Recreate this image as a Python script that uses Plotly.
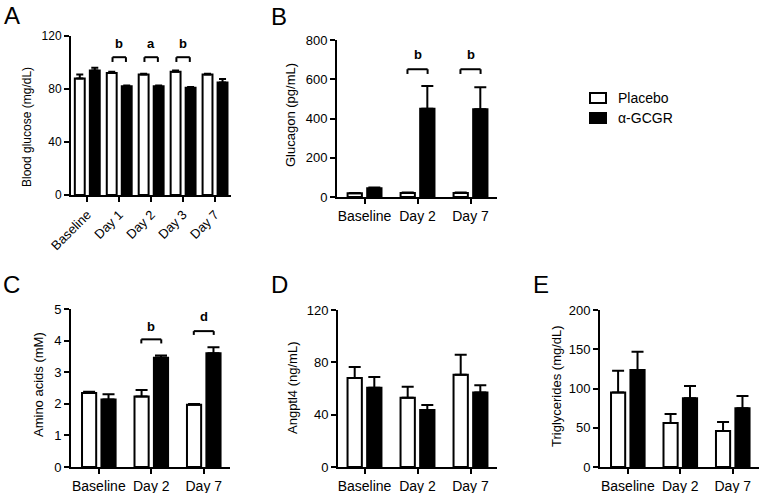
import plotly.graph_objects as go

# ---------------- data ----------------
series_names = ["Placebo", "α-GCGR"]

cats_A = ["Baseline", "Day 1", "Day 2", "Day 3", "Day 7"]
glucose_placebo = [88, 92, 91, 93, 91]
glucose_placebo_err = [3, 1, 0.6, 1, 0.6]
glucose_gcgr = [94, 82, 82, 81, 85]
glucose_gcgr_err = [2, 0.6, 0.6, 0.6, 2.5]

cats_3 = ["Baseline", "Day 2", "Day 7"]
glucagon_placebo = [19, 21, 21]
glucagon_placebo_err = [2, 2, 2]
glucagon_gcgr = [44, 450, 447]
glucagon_gcgr_err = [5, 115, 112]

amino_placebo = [2.34, 2.23, 1.97]
amino_placebo_err = [0.04, 0.21, 0.02]
amino_gcgr = [2.14, 3.46, 3.6]
amino_gcgr_err = [0.16, 0.07, 0.19]

angptl4_placebo = [68, 53, 70.5]
angptl4_placebo_err = [8.4, 8.4, 15.3]
angptl4_gcgr = [60.5, 43.6, 57]
angptl4_gcgr_err = [8.2, 3.8, 5.4]

tg_placebo = [95, 56, 46]
tg_placebo_err = [27.5, 11.5, 11.4]
tg_gcgr = [123.5, 87.5, 75]
tg_gcgr_err = [23.3, 15.7, 15.6]

# significance brackets: (category index, letter, bracket top, leg bottom, letter y)
brackets_A = [(1, "b", 104, 100.4, 114.5), (2, "a", 104, 100.4, 114.5), (3, "b", 104, 100.4, 114.5)]
brackets_B = [(1, "b", 651, 627, 724), (2, "b", 651, 627, 724)]
brackets_C = [(1, "b", 4.04, 3.91, 4.46), (2, "d", 4.30, 4.18, 4.76)]

y_titles = ["Blood glucose (mg/dL)", "Glucagon (pg/mL)", "Amino acids (mM)",
            "Angptl4 (ng/mL)", "Triglycerides (mg/dL)"]
panel_letters = ["A", "B", "C", "D", "E"]

# ---------------- layout helpers ----------------
W, H = 762, 493
FONT = "Liberation Sans, Arial, Helvetica, sans-serif"


def px_x(p):
    return p / W


def px_y(p):
    return 1 - p / H


panels = [
    dict(cats=cats_A, p=glucose_placebo, pe=glucose_placebo_err, g=glucose_gcgr, ge=glucose_gcgr_err,
         xd=(71, 231), yd=(36, 195), xr=[-0.51, 4.5], yr=[0, 120], dt=40, bw=0.31, wo=-0.39, bo=0.08,
         cap=3.5, tf=12, xf=13, tickangle=-45),
    dict(cats=cats_3, p=glucagon_placebo, pe=glucagon_placebo_err, g=glucagon_gcgr, ge=glucagon_gcgr_err,
         xd=(337, 497), yd=(40, 197), xr=[-0.52, 2.5], yr=[0, 800], dt=200, bw=0.27, wo=-0.32, bo=0.05,
         cap=6, tf=13, xf=14, tickangle=0),
    dict(cats=cats_3, p=amino_placebo, pe=amino_placebo_err, g=amino_gcgr, ge=amino_gcgr_err,
         xd=(71, 230), yd=(309, 467), xr=[-0.53, 2.5], yr=[0, 5], dt=1, bw=0.27, wo=-0.32, bo=0.05,
         cap=6, tf=13, xf=14, tickangle=0),
    dict(cats=cats_3, p=angptl4_placebo, pe=angptl4_placebo_err, g=angptl4_gcgr, ge=angptl4_gcgr_err,
         xd=(338, 497), yd=(310, 467), xr=[-0.5, 2.5], yr=[0, 120], dt=40, bw=0.27, wo=-0.32, bo=0.05,
         cap=6, tf=13, xf=14, tickangle=0),
    dict(cats=cats_3, p=tg_placebo, pe=tg_placebo_err, g=tg_gcgr, ge=tg_gcgr_err,
         xd=(600, 759), yd=(310, 467), xr=[-0.53, 2.5], yr=[0, 200], dt=50, bw=0.27, wo=-0.32, bo=0.05,
         cap=6, tf=13, xf=14, tickangle=0),
]

title_pos = [(27, 127), (291, 115), (38, 385), (292, 388), (556, 386)]
letter_pos = [(2, 15), (269, 16), (1, 284), (269, 284), (531, 284)]

fig = go.Figure()
layout = dict(template="none", width=W, height=H, margin=dict(l=0, r=0, t=0, b=0, pad=0),
              autosize=False, paper_bgcolor="white", plot_bgcolor="white", showlegend=False,
              barmode="overlay", font=dict(family=FONT, color="black"))
shapes = []
annotations = []

for i, P in enumerate(panels):
    n = i + 1
    xa = "x" if n == 1 else f"x{n}"
    ya = "y" if n == 1 else f"y{n}"
    xkey = "xaxis" if n == 1 else f"xaxis{n}"
    ykey = "yaxis" if n == 1 else f"yaxis{n}"
    zeros = [0] * len(P["cats"])
    for vals, errs, color, off, name in [(P["p"], P["pe"], "white", P["wo"], series_names[0]),
                                         (P["g"], P["ge"], "black", P["bo"], series_names[1])]:
        fig.add_trace(go.Bar(
            x=P["cats"], y=vals, name=name, xaxis=xa, yaxis=ya,
            width=P["bw"], offset=off,
            marker=dict(color=color, line=dict(color="black", width=2)),
            error_y=dict(type="data", array=errs, arrayminus=zeros, symmetric=False,
                         color="black", thickness=2, width=P["cap"]),
            hoverinfo="skip"))
    layout[xkey] = dict(domain=[px_x(P["xd"][0]), px_x(P["xd"][1])], anchor=ya,
                        type="category", categoryorder="array", categoryarray=P["cats"],
                        range=P["xr"], showline=True, linewidth=2, linecolor="black",
                        ticks="outside", ticklen=5, tickwidth=2, tickcolor="black",
                        tickangle=P["tickangle"], tickfont=dict(size=P["xf"], family=FONT),
                        showgrid=False, zeroline=False, fixedrange=True, automargin=False)
    layout[ykey] = dict(domain=[px_y(P["yd"][1]), px_y(P["yd"][0])], anchor=xa,
                        range=P["yr"], dtick=P["dt"], tick0=0, showline=True, linewidth=2,
                        linecolor="black", ticks="outside", ticklen=5, tickwidth=2,
                        tickcolor="black", tickfont=dict(size=P["tf"], family=FONT),
                        showgrid=False, zeroline=False, fixedrange=True, automargin=False)
    tx, ty = title_pos[i]
    annotations.append(dict(text=y_titles[i], xref="paper", yref="paper", x=px_x(tx), y=px_y(ty),
                            xanchor="center", yanchor="middle", textangle=-90, showarrow=False,
                            font=dict(size=12 if i == 0 else 13, family=FONT)))
    lx, ly = letter_pos[i]
    annotations.append(dict(text=panel_letters[i], xref="paper", yref="paper", x=px_x(lx), y=px_y(ly),
                            xanchor="left", yanchor="middle", showarrow=False,
                            font=dict(size=24, family=FONT)))

# significance brackets
half = {0: 0.21, 1: 0.19, 2: 0.19}
for pidx, blist in [(0, brackets_A), (1, brackets_B), (2, brackets_C)]:
    n = pidx + 1
    xa = "x" if n == 1 else f"x{n}"
    ya = "y" if n == 1 else f"y{n}"
    h = half[pidx]
    for (ci, letter, ytop, yleg, ylet) in blist:
        line = dict(color="black", width=2)
        shapes.append(dict(type="line", xref=xa, yref=ya, x0=ci - h, x1=ci + h, y0=ytop, y1=ytop, line=line))
        shapes.append(dict(type="line", xref=xa, yref=ya, x0=ci - h, x1=ci - h, y0=ytop, y1=yleg, line=line))
        shapes.append(dict(type="line", xref=xa, yref=ya, x0=ci + h, x1=ci + h, y0=ytop, y1=yleg, line=line))
        annotations.append(dict(text=f"<b>{letter}</b>", xref=xa, yref=ya, x=ci, y=ylet,
                                xanchor="center", yanchor="middle", showarrow=False,
                                font=dict(size=13, family=FONT)))

# legend (custom)
legend_rows = [(98, "white"), (118, "black")]
for (cy, col), name in zip(legend_rows, series_names):
    shapes.append(dict(type="rect", xref="paper", yref="paper",
                       x0=px_x(590), x1=px_x(606), y0=px_y(cy + 5), y1=px_y(cy - 5),
                       fillcolor=col, line=dict(color="black", width=2)))
    annotations.append(dict(text=name, xref="paper", yref="paper", x=px_x(616), y=px_y(cy),
                            xanchor="left", yanchor="middle", showarrow=False,
                            font=dict(size=14, family=FONT)))

layout["shapes"] = shapes
layout["annotations"] = annotations
fig.update_layout(**layout)
fig.write_html("out.html", config={"displayModeBar": False, "staticPlot": True},
               post_script="document.body.style.margin='0px';document.body.style.overflow='hidden';")
